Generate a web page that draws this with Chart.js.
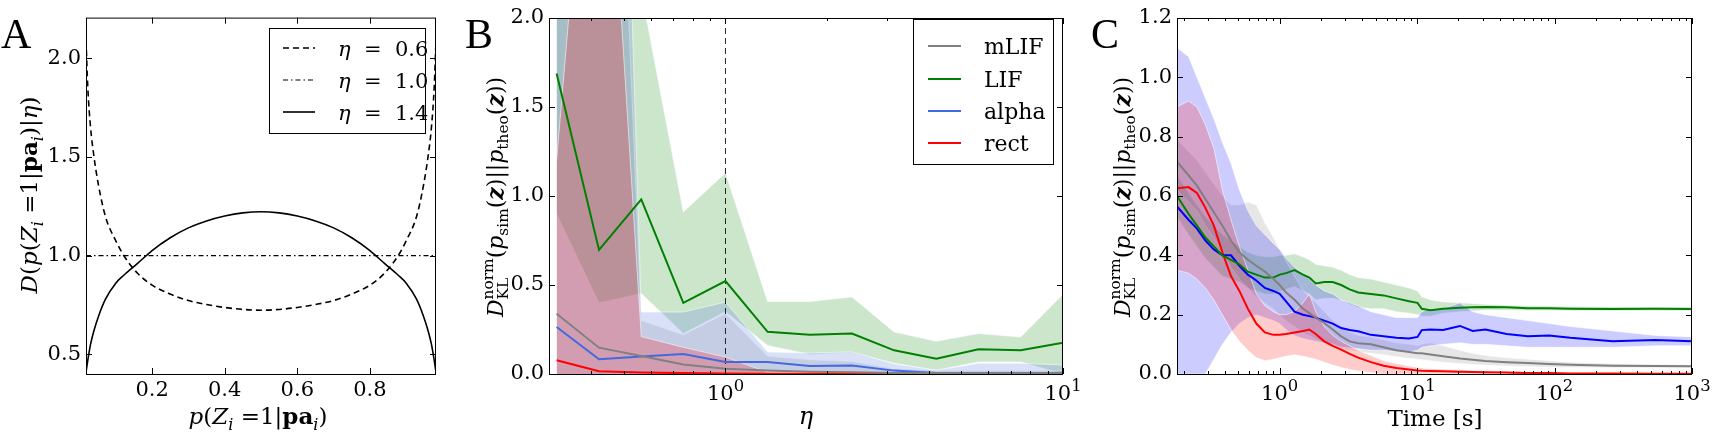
<!DOCTYPE html>
<html>
<head>
<meta charset="utf-8">
<script src="https://cdn.jsdelivr.net/npm/chart.js@4.4.1/dist/chart.umd.min.js"></script>
<style>
  html, body { margin: 0; padding: 0; background: #fff; }
  body { width: 1726px; height: 441px; position: relative; overflow: hidden; }
  canvas { position: absolute; top: 0; }
</style>
</head>
<body>
<canvas id="cA" width="460" height="441" style="left:0px"></canvas>
<canvas id="cB" width="660" height="441" style="left:440px"></canvas>
<canvas id="cC" width="651" height="441" style="left:1075px"></canvas>
<script>
// ---- panel A: D(p | eta) curves
const pA = [0.018, 0.023, 0.0305, 0.04, 0.053, 0.072, 0.1, 0.122, 0.16, 0.2, 0.25, 0.3, 0.35, 0.4, 0.45, 0.5,
            0.55, 0.6, 0.65, 0.7, 0.75, 0.8, 0.84, 0.878, 0.9, 0.928, 0.947, 0.96, 0.9695, 0.977, 0.982];
const dEta06 = [2.09, 1.85, 1.65, 1.50, 1.35, 1.195, 1.075, 1.0, 0.91, 0.85, 0.805, 0.772, 0.752, 0.737, 0.727, 0.723,
                0.727, 0.737, 0.752, 0.772, 0.805, 0.85, 0.91, 1.0, 1.075, 1.195, 1.35, 1.50, 1.65, 1.85, 2.09];
const dEta14 = [0.41, 0.47, 0.55, 0.62, 0.695, 0.78, 0.86, 0.90, 0.96, 1.025, 1.09, 1.14, 1.175, 1.20, 1.216, 1.222,
                1.216, 1.20, 1.175, 1.14, 1.09, 1.025, 0.96, 0.90, 0.86, 0.78, 0.695, 0.62, 0.55, 0.47, 0.41];
const pFlat = [0.018, 0.982];
const dEta10 = [1.0, 1.0];
const xTicksA = [0.2, 0.4, 0.6, 0.8];
const yTicksA = [0.5, 1.0, 1.5, 2.0];

// ---- panel B: D_KL vs eta
const etaB = [0.316, 0.422, 0.563, 0.750, 1.000, 1.333, 1.778, 2.370, 3.160, 4.214, 5.619, 7.492, 10.0];
const mlifB  = [0.339, 0.148, 0.101, 0.053, 0.030, 0.020, 0.013, 0.010, 0.006, 0.005, 0.004, 0.004, 0.004];
const lifB   = [1.688, 0.697, 0.981, 0.400, 0.522, 0.237, 0.221, 0.227, 0.133, 0.086, 0.139, 0.133, 0.176];
const alphaB = [0.264, 0.083, 0.099, 0.112, 0.067, 0.067, 0.045, 0.048, 0.019, 0.006, 0.004, 0.004, 0.004];
const rectB  = [0.077, 0.015, 0.008, 0.005, 0.003, 0.002, 0.001, 0.001, 0.001, 0.001, 0.001, 0.001, 0.001];
const lifBHi   = [3.0, 3.0, 2.15, 0.91, 1.13, 0.407, 0.407, 0.433, 0.236, 0.184, 0.227, 0.208, 0.448];
const lifBLo   = [0.9, 0.4, 0.452, 0.227, 0.35, 0.16, 0.11, 0.12, 0.06, 0.02, 0.068, 0.068, 0.0];
const mlifBHi  = [2.3, 6.0, 0.30, 0.22, 0.34, 0.10, 0.08, 0.07, 0.03, 0.02, 0.02, 0.02, 0.02];
const alphaBHi = [2.6, 8.0, 0.348, 0.348, 0.404, 0.124, 0.118, 0.124, 0.058, 0.021, 0.06, 0.06, 0.05];
const rectBHi  = [1.2, 4.0, 0.21, 0.15, 0.095, 0.01, 0.006, 0.004, 0.003, 0.002, 0.002, 0.002, 0.002];
const yTicksB = [0.0, 0.5, 1.0, 1.5, 2.0];

// ---- panel C: D_KL vs time
const tC = [0.179, 0.217, 0.250, 0.288, 0.332, 0.383, 0.442, 0.509, 0.587, 0.676,
            0.780, 0.899, 1.0, 1.112, 1.282, 1.478, 1.644, 1.829, 2.109, 2.431,
            2.803, 3.230, 3.724, 4.609, 5.704, 7.061, 8.738, 10.07, 10.81, 12.47,
            15.43, 20.50, 25.37, 31.40, 44.80, 63.90, 91.2, 130.1, 264.8, 538.9, 1000];
const mlifC = [0.716, 0.67, 0.635, 0.59, 0.545, 0.50, 0.45, 0.41, 0.385, 0.365,
               0.345, 0.32, 0.30, 0.275, 0.25, 0.22, 0.205, 0.19, 0.172, 0.15,
               0.127, 0.11, 0.104, 0.10, 0.09, 0.08, 0.074, 0.07, 0.07, 0.066,
               0.06, 0.052, 0.048, 0.044, 0.04, 0.037, 0.034, 0.031, 0.028, 0.027, 0.026];
const mlifCHi = [0.79, 0.75, 0.72, 0.68, 0.64, 0.60, 0.57, 0.57, 0.58, 0.57,
                 0.51, 0.46, 0.42, 0.38, 0.33, 0.28, 0.26, 0.24, 0.21, 0.18,
                 0.16, 0.14, 0.13, 0.125, 0.115, 0.105, 0.10, 0.095, 0.10, 0.105,
                 0.095, 0.08, 0.07, 0.062, 0.055, 0.05, 0.045, 0.04, 0.035, 0.032, 0.031];
const mlifCLo = [0.62, 0.58, 0.55, 0.50, 0.46, 0.41, 0.36, 0.32, 0.29, 0.26,
                 0.24, 0.22, 0.20, 0.18, 0.16, 0.14, 0.13, 0.12, 0.105, 0.095,
                 0.085, 0.08, 0.075, 0.07, 0.065, 0.058, 0.053, 0.05, 0.048, 0.045,
                 0.04, 0.035, 0.032, 0.03, 0.027, 0.025, 0.023, 0.022, 0.021, 0.021, 0.021];
const lifC = [0.60, 0.54, 0.50, 0.46, 0.43, 0.40, 0.385, 0.37, 0.345, 0.335,
              0.325, 0.325, 0.335, 0.34, 0.35, 0.335, 0.325, 0.305, 0.31, 0.31,
              0.30, 0.285, 0.275, 0.27, 0.265, 0.255, 0.245, 0.24, 0.22, 0.215,
              0.22, 0.223, 0.225, 0.226, 0.225, 0.222, 0.222, 0.22, 0.219, 0.22, 0.219];
const lifCHi = [0.67, 0.61, 0.57, 0.53, 0.50, 0.47, 0.45, 0.43, 0.41, 0.40,
                0.395, 0.395, 0.40, 0.40, 0.405, 0.395, 0.385, 0.37, 0.365, 0.36,
                0.35, 0.335, 0.325, 0.32, 0.31, 0.30, 0.29, 0.28, 0.26, 0.25,
                0.243, 0.24, 0.238, 0.235, 0.232, 0.23, 0.229, 0.228, 0.227, 0.226, 0.226];
const lifCLo = [0.53, 0.47, 0.43, 0.39, 0.36, 0.33, 0.32, 0.31, 0.29, 0.28,
                0.27, 0.27, 0.28, 0.285, 0.295, 0.28, 0.27, 0.25, 0.255, 0.255,
                0.25, 0.235, 0.225, 0.22, 0.22, 0.21, 0.205, 0.20, 0.195, 0.195,
                0.205, 0.21, 0.212, 0.215, 0.215, 0.214, 0.214, 0.213, 0.213, 0.213, 0.213];
const alphaC = [0.565, 0.52, 0.49, 0.45, 0.42, 0.40, 0.40, 0.365, 0.335, 0.315,
                0.29, 0.28, 0.27, 0.245, 0.21, 0.20, 0.195, 0.19, 0.18, 0.17,
                0.155, 0.148, 0.144, 0.132, 0.127, 0.122, 0.12, 0.125, 0.148, 0.15,
                0.148, 0.162, 0.145, 0.15, 0.135, 0.127, 0.13, 0.122, 0.11, 0.115, 0.11];
const alphaCHi = [1.10, 1.07, 1.0, 0.93, 0.86, 0.78, 0.71, 0.62, 0.55, 0.50,
                  0.47, 0.44, 0.42, 0.39, 0.36, 0.34, 0.32, 0.30, 0.28, 0.27,
                  0.25, 0.24, 0.23, 0.21, 0.20, 0.19, 0.19, 0.19, 0.21, 0.22,
                  0.22, 0.24, 0.21, 0.20, 0.19, 0.18, 0.17, 0.16, 0.145, 0.13, 0.125];
const alphaCLo = [0.0, 0.0, 0.0, 0.0, 0.05, 0.10, 0.14, 0.17, 0.19, 0.20,
                  0.19, 0.18, 0.17, 0.15, 0.13, 0.12, 0.115, 0.11, 0.105, 0.10,
                  0.09, 0.088, 0.085, 0.08, 0.08, 0.075, 0.075, 0.08, 0.09, 0.095,
                  0.10, 0.105, 0.10, 0.10, 0.095, 0.09, 0.09, 0.09, 0.09, 0.095, 0.095];
const rectC = [0.626, 0.63, 0.61, 0.56, 0.50, 0.41, 0.33, 0.28, 0.22, 0.17,
               0.14, 0.132, 0.132, 0.135, 0.14, 0.145, 0.15, 0.135, 0.11, 0.095,
               0.082, 0.068, 0.055, 0.04, 0.028, 0.02, 0.015, 0.012, 0.011, 0.01,
               0.009, 0.008, 0.007, 0.006, 0.005, 0.003, 0.003, 0.002, 0.002, 0.001, 0.001];
const rectCHi = [0.90, 0.92, 0.90, 0.84, 0.76, 0.62, 0.52, 0.43, 0.35, 0.27,
                 0.23, 0.21, 0.20, 0.20, 0.21, 0.24, 0.27, 0.21, 0.16, 0.13,
                 0.11, 0.095, 0.08, 0.062, 0.045, 0.035, 0.027, 0.022, 0.02, 0.018,
                 0.016, 0.014, 0.012, 0.01, 0.008, 0.006, 0.005, 0.004, 0.003, 0.002, 0.002];
const rectCLo = [0.35, 0.34, 0.32, 0.29, 0.25, 0.20, 0.15, 0.11, 0.08, 0.055,
                 0.045, 0.05, 0.055, 0.06, 0.065, 0.06, 0.055, 0.05, 0.04, 0.03,
                 0.022, 0.015, 0.01, 0.005, 0, 0, 0, 0, 0, 0,
                 0, 0, 0, 0, 0, 0, 0, 0, 0, 0, 0];
const yTicksC = [0.0, 0.2, 0.4, 0.6, 0.8, 1.0, 1.2];

const FONT = '"DejaVu Serif"';
Chart.defaults.font.family = FONT;
Chart.defaults.color = '#000';

const toXY = (xs, ys) => xs.map((x, i) => ({ x: x, y: ys[i] }));

function lineDs(label, xs, ys, color, width, extra) {
  return Object.assign({ label: label, data: toXY(xs, ys), borderColor: color, borderWidth: width,
    pointRadius: 0, fill: false, order: 0 }, extra || {});
}

// shaded band: fill from hi down to lo (or to y = 0 when lo is missing)
function addBand(list, xs, hi, lo, color, order) {
  const edge = { borderColor: 'rgba(255,255,255,0.55)', borderWidth: 1, pointRadius: 0, order: order };
  if (lo) {
    list.push(Object.assign({ data: toXY(xs, lo), fill: false }, edge));
    const target = list.length - 1;
    list.push(Object.assign({ data: toXY(xs, hi), fill: target, backgroundColor: color }, edge));
  } else {
    list.push(Object.assign({ data: toXY(xs, hi), fill: 'origin', backgroundColor: color }, edge));
  }
}

// little mathtext renderer: runs of {t, i, b, sub, sup, si}
function runFont(i, b, size) {
  return (i ? 'italic ' : '') + (b ? 'bold ' : '') + size.toFixed(1) + 'px ' + FONT;
}
function drawMath(ctx, runs, x, y, size, rot, supScale) {
  const ss = supScale || 0.7;
  const items = [];
  let w = 0;
  runs.forEach(r => {
    if (r.t !== undefined) {
      const f = runFont(r.i, r.b, size);
      ctx.font = f;
      items.push({ t: r.t, f: f, x: w, dy: 0 });
      w += ctx.measureText(r.t).width;
    }
    let adv = 0;
    if (r.sub !== undefined) {
      const f = runFont(r.si, false, size * 0.7);
      ctx.font = f;
      items.push({ t: r.sub, f: f, x: w, dy: size * 0.24 });
      adv = Math.max(adv, ctx.measureText(r.sub).width);
    }
    if (r.sup !== undefined) {
      const f = runFont(false, false, size * ss);
      ctx.font = f;
      items.push({ t: r.sup, f: f, x: w, dy: -size * 0.45 });
      adv = Math.max(adv, ctx.measureText(r.sup).width);
    }
    w += adv;
  });
  ctx.save();
  ctx.translate(x, y);
  if (rot) ctx.rotate(rot);
  ctx.fillStyle = '#000';
  ctx.textBaseline = 'alphabetic';
  ctx.textAlign = 'left';
  items.forEach(it => { ctx.font = it.f; ctx.fillText(it.t, it.x - w / 2, it.dy); });
  ctx.restore();
}
function drawMathLeft(ctx, runs, size) {
  let x = 0;
  ctx.fillStyle = '#000';
  runs.forEach(r => { ctx.font = runFont(r.i, r.b, size); ctx.fillText(r.t, x, 0); x += ctx.measureText(r.t).width; });
}

// frame, inward ticks, log labels, titles, panel letter and legend
const decor = {
  id: 'decor',
  afterDraw(chart, args, o) {
    const ctx = chart.ctx, ca = chart.chartArea;
    const xs = chart.scales.x, ys = chart.scales.y;
    ctx.save();
    ctx.translate(-o.offX, 0);
    const L = ca.left + o.offX, R = ca.right + o.offX, T = ca.top, B = ca.bottom;
    ctx.strokeStyle = '#000';
    ctx.lineWidth = 1;
    const seg = (x1, y1, x2, y2) => { ctx.beginPath(); ctx.moveTo(x1, y1); ctx.lineTo(x2, y2); ctx.stroke(); };
    const xTick = (v, len) => {
      const px = Math.round(xs.getPixelForValue(v) + o.offX) + 0.5;
      seg(px, B, px, B - len); seg(px, T, px, T + len);
    };
    const yTick = (v, len) => {
      const py = Math.round(ys.getPixelForValue(v)) + 0.5;
      seg(L, py, L + len, py); seg(R, py, R - len, py);
    };
    (o.xMajor || []).forEach(v => xTick(v, 6));
    (o.xMinor || []).forEach(v => xTick(v, 3));
    (o.yMajor || []).forEach(v => yTick(v, 6));
    ctx.strokeRect(L + 0.5, T + 0.5, R - L - 1, B - T);
    (o.xPow || []).forEach(p => {
      drawMath(ctx, [{ t: '10', sup: p[1] }], xs.getPixelForValue(p[0]) + o.offX, 400, 21, 0, 0.78);
    });
    (o.titles || []).forEach(tt => drawMath(ctx, tt.runs, tt.x, tt.y, tt.size, tt.rot || 0));
    ctx.fillStyle = '#000';
    ctx.font = '42px "Liberation Serif"';
    ctx.textAlign = 'left';
    ctx.textBaseline = 'alphabetic';
    ctx.fillText(o.letter[0], o.letter[1], o.letter[2]);
    if (o.legend) {
      const lg = o.legend, bx = lg.box;
      ctx.fillStyle = '#fff';
      ctx.fillRect(bx[0], bx[1], bx[2] - bx[0], bx[3] - bx[1]);
      ctx.strokeStyle = '#000';
      ctx.lineWidth = 1;
      ctx.strokeRect(bx[0] + 0.5, bx[1] + 0.5, bx[2] - bx[0], bx[3] - bx[1]);
      lg.items.forEach(it => {
        const ds = chart.data.datasets[it.ds];
        ctx.save();
        ctx.strokeStyle = ds.borderColor;
        ctx.lineWidth = ds.borderWidth;
        ctx.setLineDash(ds.borderDash || []);
        seg(lg.sx[0], it.y, lg.sx[1], it.y);
        ctx.restore();
        if (it.runs) {
          ctx.save();
          ctx.translate(lg.tx, it.y + lg.dy);
          drawMathLeft(ctx, it.runs, lg.size);
          ctx.restore();
        } else {
          ctx.fillStyle = '#000';
          ctx.font = lg.size + 'px ' + FONT;
          ctx.fillText(it.text, lg.tx, it.y + lg.dy);
        }
      });
    }
    ctx.restore();
  }
};

function yScale(min, max, ticks, width) {
  return {
    type: 'linear', min: min, max: max,
    grid: { display: false, drawTicks: false }, border: { display: false },
    afterBuildTicks: s => { s.ticks = ticks.map(v => ({ value: v })); },
    ticks: { font: { size: 21, family: FONT }, color: '#000', padding: 5, autoSkip: false,
             callback: v => Number(v).toFixed(1) },
    afterFit: s => { s.width = width; }
  };
}
function xScale(type, min, max, ticks, showLabels) {
  return {
    type: type, min: min, max: max,
    grid: { display: false, drawTicks: false }, border: { display: false },
    afterBuildTicks: s => { s.ticks = ticks.map(v => ({ value: v })); },
    ticks: { display: showLabels, font: { size: 21, family: FONT }, color: '#000', padding: 4,
             autoSkip: false, maxRotation: 0, callback: v => Number(v).toFixed(1) },
    afterFit: s => { s.height = 67; }
  };
}
function baseOptions(padding, scales, decorOpts) {
  return {
    responsive: false, animation: false, events: [],
    layout: { padding: padding },
    scales: scales,
    plugins: { legend: { display: false }, tooltip: { enabled: false }, decor: decorOpts }
  };
}

const ETA = [{ t: 'η', i: true }];
const PZ = [{ t: 'p', i: true }, { t: '(' }, { t: 'Z', i: true, sub: 'i', si: true }, { t: ' =1|' },
            { t: 'pa', b: true, sub: 'i', si: true }];
const DKL = [{ t: 'D', i: true, sub: 'KL', sup: 'norm' }, { t: '(' }, { t: 'p', i: true, sub: 'sim' },
             { t: '(' }, { t: 'z', i: true, b: true }, { t: ')||' }, { t: 'p', i: true, sub: 'theo' },
             { t: '(' }, { t: 'z', i: true, b: true }, { t: '))' }];

// ---------- A
const dsA = [
  lineDs('eta06', pA, dEta06, '#000', 1.6, { borderDash: [6, 4], cubicInterpolationMode: 'monotone' }),
  lineDs('eta10', pFlat, dEta10, '#000', 1.2, { borderDash: [5, 3, 1.5, 3] }),
  lineDs('eta14', pA, dEta14, '#000', 1.6, { cubicInterpolationMode: 'monotone' })
];
new Chart(document.getElementById('cA'), {
  type: 'line',
  data: { datasets: dsA },
  options: baseOptions({ left: 0, right: 24, top: 16, bottom: 0 }, {
    x: xScale('linear', 0.018, 0.982, xTicksA, true),
    y: yScale(0.40, 2.205, yTicksA, 86)
  }, {
    offX: 0, letter: ['A', 1, 48],
    xMajor: xTicksA, yMajor: yTicksA,
    titles: [
      { runs: PZ.concat([{ t: ')' }]), x: 258, y: 424, size: 23 },
      { runs: [{ t: 'D', i: true }, { t: '(' }].concat(PZ, [{ t: ')|' }, { t: 'η', i: true }, { t: ')' }]),
        x: 37, y: 195, size: 23, rot: -Math.PI / 2 }
    ],
    legend: {
      box: [269, 28, 425, 133], sx: [283, 315], tx: 338, dy: 8, size: 21,
      items: [
        { ds: 0, y: 48, runs: ETA.concat([{ t: '  =  0.6' }]) },
        { ds: 1, y: 80, runs: ETA.concat([{ t: '  =  1.0' }]) },
        { ds: 2, y: 112, runs: ETA.concat([{ t: '  =  1.4' }]) }
      ]
    }
  }),
  plugins: [decor]
});

// ---------- B
const colB = { mlif: 'rgb(128,128,128)', lif: 'rgb(0,128,0)', alpha: 'rgb(65,105,225)', rect: 'rgb(255,0,0)' };
const dsB = [
  lineDs('mLIF', etaB, mlifB, colB.mlif, 2),
  lineDs('LIF', etaB, lifB, colB.lif, 2),
  lineDs('alpha', etaB, alphaB, colB.alpha, 2),
  lineDs('rect', etaB, rectB, colB.rect, 2),
  lineDs('ref', [1, 1], [0, 2], 'rgba(0,0,0,0.85)', 1, { borderDash: [6, 4], order: 1 })
];
addBand(dsB, etaB, lifBHi, lifBLo, 'rgba(0,128,0,0.2)', 10);
addBand(dsB, etaB, mlifBHi, null, 'rgba(128,128,128,0.2)', 9);
addBand(dsB, etaB, alphaBHi, null, 'rgba(65,105,225,0.2)', 8);
addBand(dsB, etaB, rectBHi, null, 'rgba(255,0,0,0.23)', 7);
new Chart(document.getElementById('cB'), {
  type: 'line',
  data: { datasets: dsB },
  options: baseOptions({ left: 0, right: 37, top: 18, bottom: 0 }, {
    x: xScale('logarithmic', 0.316, 10, [1, 10], false),
    y: yScale(0, 2, yTicksB, 109)
  }, {
    offX: 440, letter: ['B', 465, 48],
    xMajor: [1, 10], xMinor: [0.4, 0.5, 0.6, 0.7, 0.8, 0.9, 2, 3, 4, 5, 6, 7, 8, 9], yMajor: yTicksB,
    xPow: [[1, '0'], [10, '1']],
    titles: [
      { runs: ETA, x: 806, y: 424, size: 24 },
      { runs: DKL, x: 503, y: 197, size: 22, rot: -Math.PI / 2 }
    ],
    legend: {
      box: [913, 19, 1053, 164], sx: [928, 961], tx: 984, dy: 7.5, size: 22,
      items: [
        { ds: 0, y: 46, text: 'mLIF' },
        { ds: 1, y: 79, text: 'LIF' },
        { ds: 2, y: 111, text: 'alpha' },
        { ds: 3, y: 143, text: 'rect' }
      ]
    }
  }),
  plugins: [decor]
});

// ---------- C
const dsC = [
  lineDs('mLIF', tC, mlifC, 'rgb(128,128,128)', 2),
  lineDs('LIF', tC, lifC, 'rgb(0,128,0)', 2),
  lineDs('alpha', tC, alphaC, 'rgb(0,0,255)', 2),
  lineDs('rect', tC, rectC, 'rgb(255,0,0)', 2)
];
addBand(dsC, tC, lifCHi, lifCLo, 'rgba(0,128,0,0.2)', 10);
addBand(dsC, tC, mlifCHi, mlifCLo, 'rgba(128,128,128,0.2)', 9);
addBand(dsC, tC, alphaCHi, alphaCLo, 'rgba(0,0,255,0.2)', 8);
addBand(dsC, tC, rectCHi, rectCLo, 'rgba(255,0,0,0.2)', 7);
const minorC = [0.2, 0.3, 0.4, 0.5, 0.6, 0.7, 0.8, 0.9, 2, 3, 4, 5, 6, 7, 8, 9,
                20, 30, 40, 50, 60, 70, 80, 90, 200, 300, 400, 500, 600, 700, 800, 900];
new Chart(document.getElementById('cC'), {
  type: 'line',
  data: { datasets: dsC },
  options: baseOptions({ left: 0, right: 34, top: 18, bottom: 0 }, {
    x: xScale('logarithmic', 0.179, 1000, [1, 10, 100, 1000], false),
    y: yScale(0, 1.2, yTicksC, 102)
  }, {
    offX: 1075, letter: ['C', 1091, 48],
    xMajor: [1, 10, 100, 1000], xMinor: minorC, yMajor: yTicksC,
    xPow: [[1, '0'], [10, '1'], [100, '2'], [1000, '3']],
    titles: [
      { runs: [{ t: 'Time [s]' }], x: 1435, y: 426, size: 23 },
      { runs: DKL, x: 1130, y: 197, size: 22, rot: -Math.PI / 2 }
    ]
  }),
  plugins: [decor]
});
</script>
</body>
</html>
